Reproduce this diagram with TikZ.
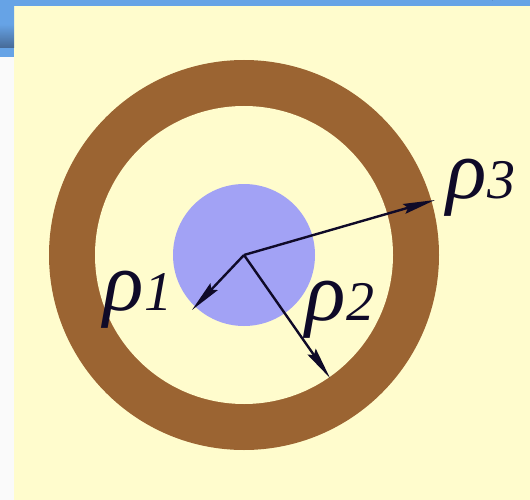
\documentclass[tikz,border=0pt]{standalone}
\usepackage{fontspec}
\setmainfont{Liberation Serif}
\usetikzlibrary{arrows.meta}
\definecolor{cream}{RGB}{255,252,205}
\definecolor{ringbrown}{RGB}{155,100,50}
\definecolor{diskblue}{RGB}{162,162,245}
\definecolor{barblue}{RGB}{102,163,230}
\definecolor{bardark}{RGB}{70,105,150}
\definecolor{logoblue}{RGB}{40,50,110}
\definecolor{arrowdark}{RGB}{15,10,40}
\tikzset{
  radius arrow/.style={line width=2.4pt, draw=arrowdark, arrows={-Stealth[length=32pt,width=10pt,inset=4pt]}},
  rholabel/.style={inner sep=0pt, text=arrowdark, font=\fontsize{84}{84}\selectfont\itshape}
}
\newcommand{\subdigit}[1]{{\fontsize{56}{56}\selectfont\itshape #1}}
\begin{document}
\begin{tikzpicture}[x=1pt,y=-1pt]
\useasboundingbox (0,0) rectangle (530,500);
% frame
\fill[white!98!black] (0,0) rectangle (530,500);
\fill[cream] (14,6) rectangle (530,500);
\fill[barblue] (0,0) rectangle (530,6);
\shade[top color=barblue, bottom color=bardark, middle color=barblue] (0,0) rectangle (14,48);
\fill[barblue] (0,48) rectangle (14,57);
\draw[logoblue, line width=1.5pt] (492,0) arc[start angle=200, end angle=250, radius=25];
\draw[logoblue!60, line width=1pt] (500,0) arc[start angle=200, end angle=240, radius=20];
% ring and disk
\coordinate (O) at (244,255);
\fill[ringbrown] (O) circle[radius=195];
\fill[cream] (O) circle[radius=149];
\fill[diskblue] (O) circle[radius=71];
% arrow ends
\coordinate (e1) at (192,310);
\coordinate (e2) at (330,378);
\coordinate (e3) at (435,200);
\draw[radius arrow] (O) -- (e1);
\draw[radius arrow] (O) -- (e2);
\draw[radius arrow] (O) -- (e3);
% labels
\node[rholabel] (l1) at (138,300) {ρ\subdigit{1}};
\node[rholabel] (l2) at (340,310) {ρ\subdigit{2}};
\node[rholabel] (l3) at (481,188) {ρ\subdigit{3}};
\end{tikzpicture}
\end{document}
